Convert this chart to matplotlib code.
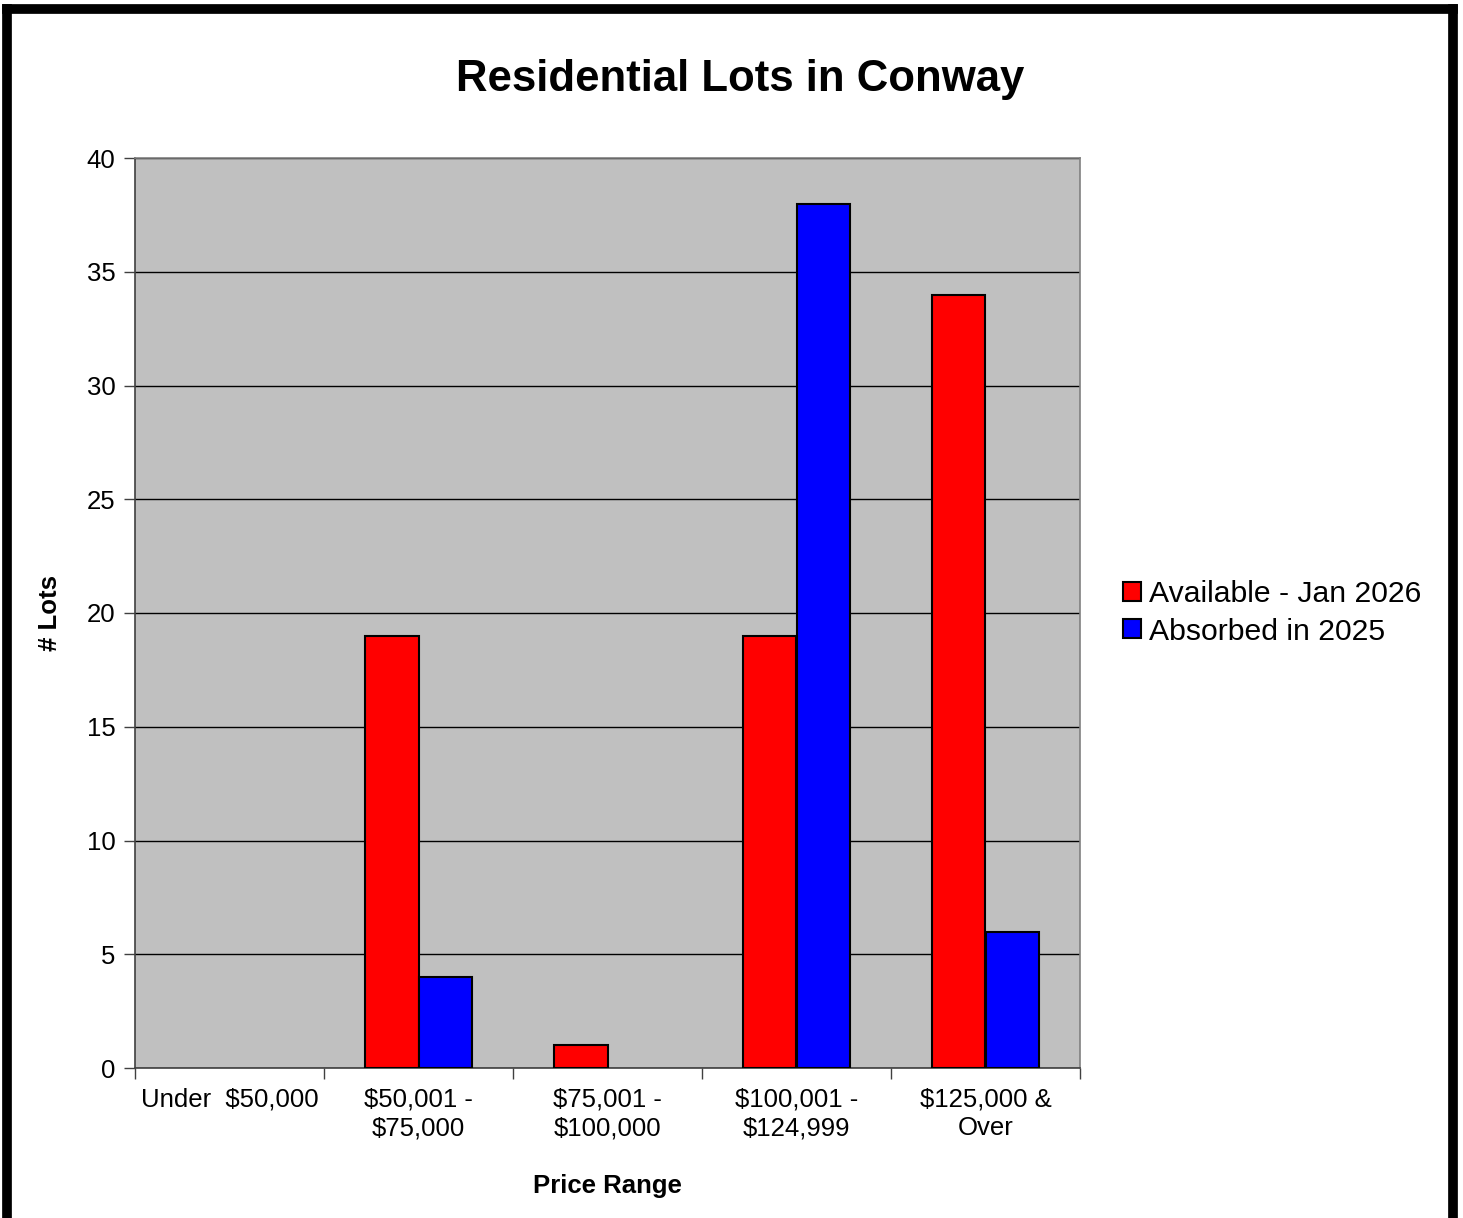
import matplotlib
matplotlib.use("Agg")
import matplotlib.pyplot as plt
import numpy as np
from matplotlib.lines import Line2D
from matplotlib.patches import Patch

categories = ["Under  $50,000", "$50,001 -\n$75,000", "$75,001 -\n$100,000",
              "$100,001 -\n$124,999", "$125,000 &\nOver"]
available = [0, 19, 1, 19, 34]
absorbed = [0, 4, 0, 38, 6]
series_names = ["Available - Jan 2026", "Absorbed in 2025"]
yticks = [0, 5, 10, 15, 20, 25, 30, 35, 40]

plt.rcParams['font.family'] = ['Liberation Sans', 'DejaVu Sans']

W, H = 1463, 1218
fig = plt.figure(figsize=(W/100, H/100), dpi=100)
ax = fig.add_axes([135/W, 1-1068/H, (1080-135)/W, (1068-158)/H])
ax.set_facecolor('#C0C0C0')

x = np.arange(len(categories))
bw = 0.2857
lw_a = [1.5 if v else 0 for v in available]
lw_b = [1.5 if v else 0 for v in absorbed]
ax.bar(x - bw/2, available, bw, color='#FF0000', edgecolor='black', linewidth=lw_a, zorder=3)
ax.bar(x + bw/2, absorbed, bw, color='#0000FF', edgecolor='black', linewidth=lw_b, zorder=3)

ax.set_xlim(-0.5, len(categories) - 0.5)
ax.set_ylim(0, 40)
ax.set_yticks(yticks)
ax.set_yticklabels([str(t) for t in yticks], fontsize=18.5)
ax.yaxis.grid(True, color='black', linewidth=1)
ax.set_axisbelow(True)

ax.set_xticks(np.arange(len(categories) + 1) - 0.5)
ax.set_xticklabels([])
ax.set_xticks(x, minor=True)
ax.set_xticklabels(categories, minor=True, fontsize=18.5, linespacing=1.25)
ax.tick_params(axis='x', which='minor', length=0, pad=14)
ax.tick_params(axis='x', which='major', length=8, width=1, color='#404040')
ax.tick_params(axis='y', length=8, width=1, color='#404040', pad=6)

for s in ['top', 'right']:
    ax.spines[s].set_color('#808080')
    ax.spines[s].set_linewidth(1.2)
for s in ['left', 'bottom']:
    ax.spines[s].set_color('#404040')
    ax.spines[s].set_linewidth(1.2)

ax.set_xlabel("Price Range", fontsize=18.5, fontweight='bold', labelpad=24)
ax.set_ylabel("# Lots", fontsize=18.5, fontweight='bold', labelpad=18)

fig.text(740/W, 1-80/H, "Residential Lots in Conway", ha='center', va='center',
         fontsize=31.5, fontweight='bold')

handles = [Patch(facecolor='#FF0000', edgecolor='black', linewidth=1.5),
           Patch(facecolor='#0000FF', edgecolor='black', linewidth=1.5)]
fig.legend(handles, series_names, loc='center left', bbox_to_anchor=(1111/W, 1-613/H),
           frameon=False, fontsize=21.7, handlelength=0.6, handleheight=0.6,
           handletextpad=0.25, labelspacing=0.3, borderaxespad=0)

# outer border
border_kw = dict(color='black', linewidth=7, solid_capstyle='projecting',
                 transform=fig.transFigure, zorder=10)
fig.add_artist(Line2D([6.5/W, 6.5/W], [0, 1-8.5/H], **border_kw))
fig.add_artist(Line2D([6.5/W, 1452.5/W], [1-8.5/H, 1-8.5/H], **border_kw))
fig.add_artist(Line2D([1452.5/W, 1452.5/W], [0, 1-8.5/H], **border_kw))

fig.savefig("out.png", dpi=100)
